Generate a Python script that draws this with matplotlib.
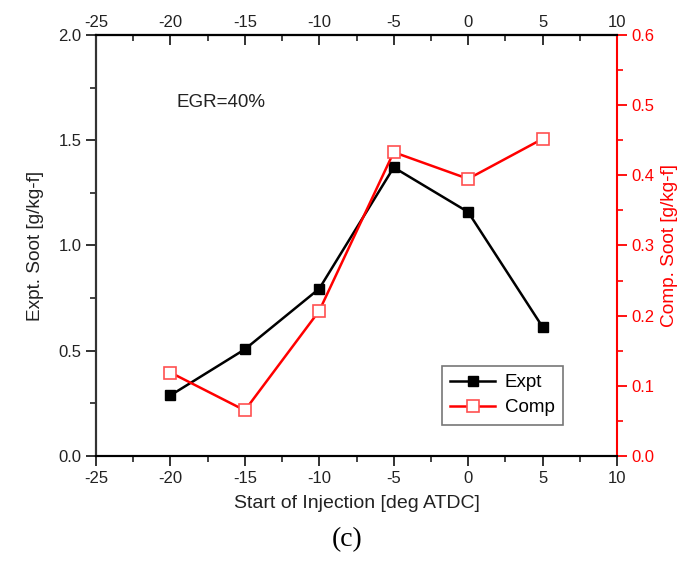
import matplotlib
matplotlib.use("Agg")
import matplotlib.pyplot as plt
from matplotlib.ticker import MultipleLocator, FormatStrFormatter

plt.rcParams['font.family'] = ['Liberation Sans', 'DejaVu Sans']
plt.rcParams['axes.unicode_minus'] = False

soi = [-20, -15, -10, -5, 0, 5]
expt = [0.288, 0.507, 0.795, 1.371, 1.159, 0.613]
comp = [0.119, 0.065, 0.207, 0.433, 0.395, 0.452]

fig = plt.figure(figsize=(6.95, 5.64), dpi=100)
ax = fig.add_axes([96/695, 1-456/564, (617-96)/695, (456-35)/564])
ax2 = ax.twinx()

l1, = ax.plot(soi, expt, color='black', lw=1.8, marker='s', ms=7.5,
              mfc='black', mec='black', label='Expt', zorder=3)
l2, = ax2.plot(soi, comp, color='red', lw=1.8, marker='s', ms=8,
               mfc='white', mec='#ff5050', mew=1.2, label='Comp', zorder=3)

ax.set_xlim(-25, 10)
ax.set_ylim(0, 2.0)
ax2.set_ylim(0, 0.6)

ax.xaxis.set_major_locator(MultipleLocator(5))
ax.xaxis.set_minor_locator(MultipleLocator(2.5))
ax.yaxis.set_major_locator(MultipleLocator(0.5))
ax.yaxis.set_minor_locator(MultipleLocator(0.25))
ax2.yaxis.set_major_locator(MultipleLocator(0.1))
ax2.yaxis.set_minor_locator(MultipleLocator(0.05))

ax.yaxis.set_major_formatter(FormatStrFormatter('%.1f'))
ax2.yaxis.set_major_formatter(FormatStrFormatter('%.1f'))

for s in ax.spines.values():
    s.set_linewidth(1.5)
for s in ax2.spines.values():
    s.set_linewidth(1.5)
ax2.spines['right'].set_color('red')
ax.spines['right'].set_visible(False)
ax2.spines['left'].set_color('#333333')

ax.tick_params(axis='both', which='major', direction='out', length=7, width=1.3,
               labelsize=12, colors='#222222')
ax.tick_params(axis='both', which='minor', direction='out', length=4, width=1.2, colors='#222222')
ax2.tick_params(axis='y', which='major', direction='out', length=7, width=1.3,
                labelsize=12, colors='red', pad=3)
ax2.tick_params(axis='y', which='minor', direction='out', length=4, width=1.2, colors='red')

sec = ax.secondary_xaxis('top')
sec.xaxis.set_major_locator(MultipleLocator(5))
sec.xaxis.set_minor_locator(MultipleLocator(2.5))
sec.tick_params(which='major', direction='in', length=7, width=1.3, labelsize=12, colors='#222222')
sec.tick_params(which='minor', direction='in', length=4, width=1.2, colors='#222222')
sec.spines['top'].set_linewidth(1.5)

ax.set_xlabel('Start of Injection [deg ATDC]', fontsize=14, color='#222222', labelpad=7)
ax.set_ylabel('Expt. Soot [g/kg-f]', fontsize=13.7, color='#222222', labelpad=10)
ax2.set_ylabel('Comp. Soot [g/kg-f]', fontsize=13.7, color='red', labelpad=5)

ax.text(-19.6, 1.66, 'EGR=40%', fontsize=13.5, color='#222222')

leg = ax2.legend(handles=[l1, l2], loc='upper left', bbox_to_anchor=(0.664, 0.214),
                 fontsize=13.5, frameon=True, fancybox=False, edgecolor='#555555',
                 handlelength=2.4, borderpad=0.45, labelspacing=0.4, handletextpad=0.5,
                 borderaxespad=0)
leg.get_frame().set_linewidth(1.2)

fig.text(347/695, 1-540/564, '(c)', fontsize=20, family='Liberation Serif',
         ha='center', va='center')

fig.savefig('out.png', dpi=100)
